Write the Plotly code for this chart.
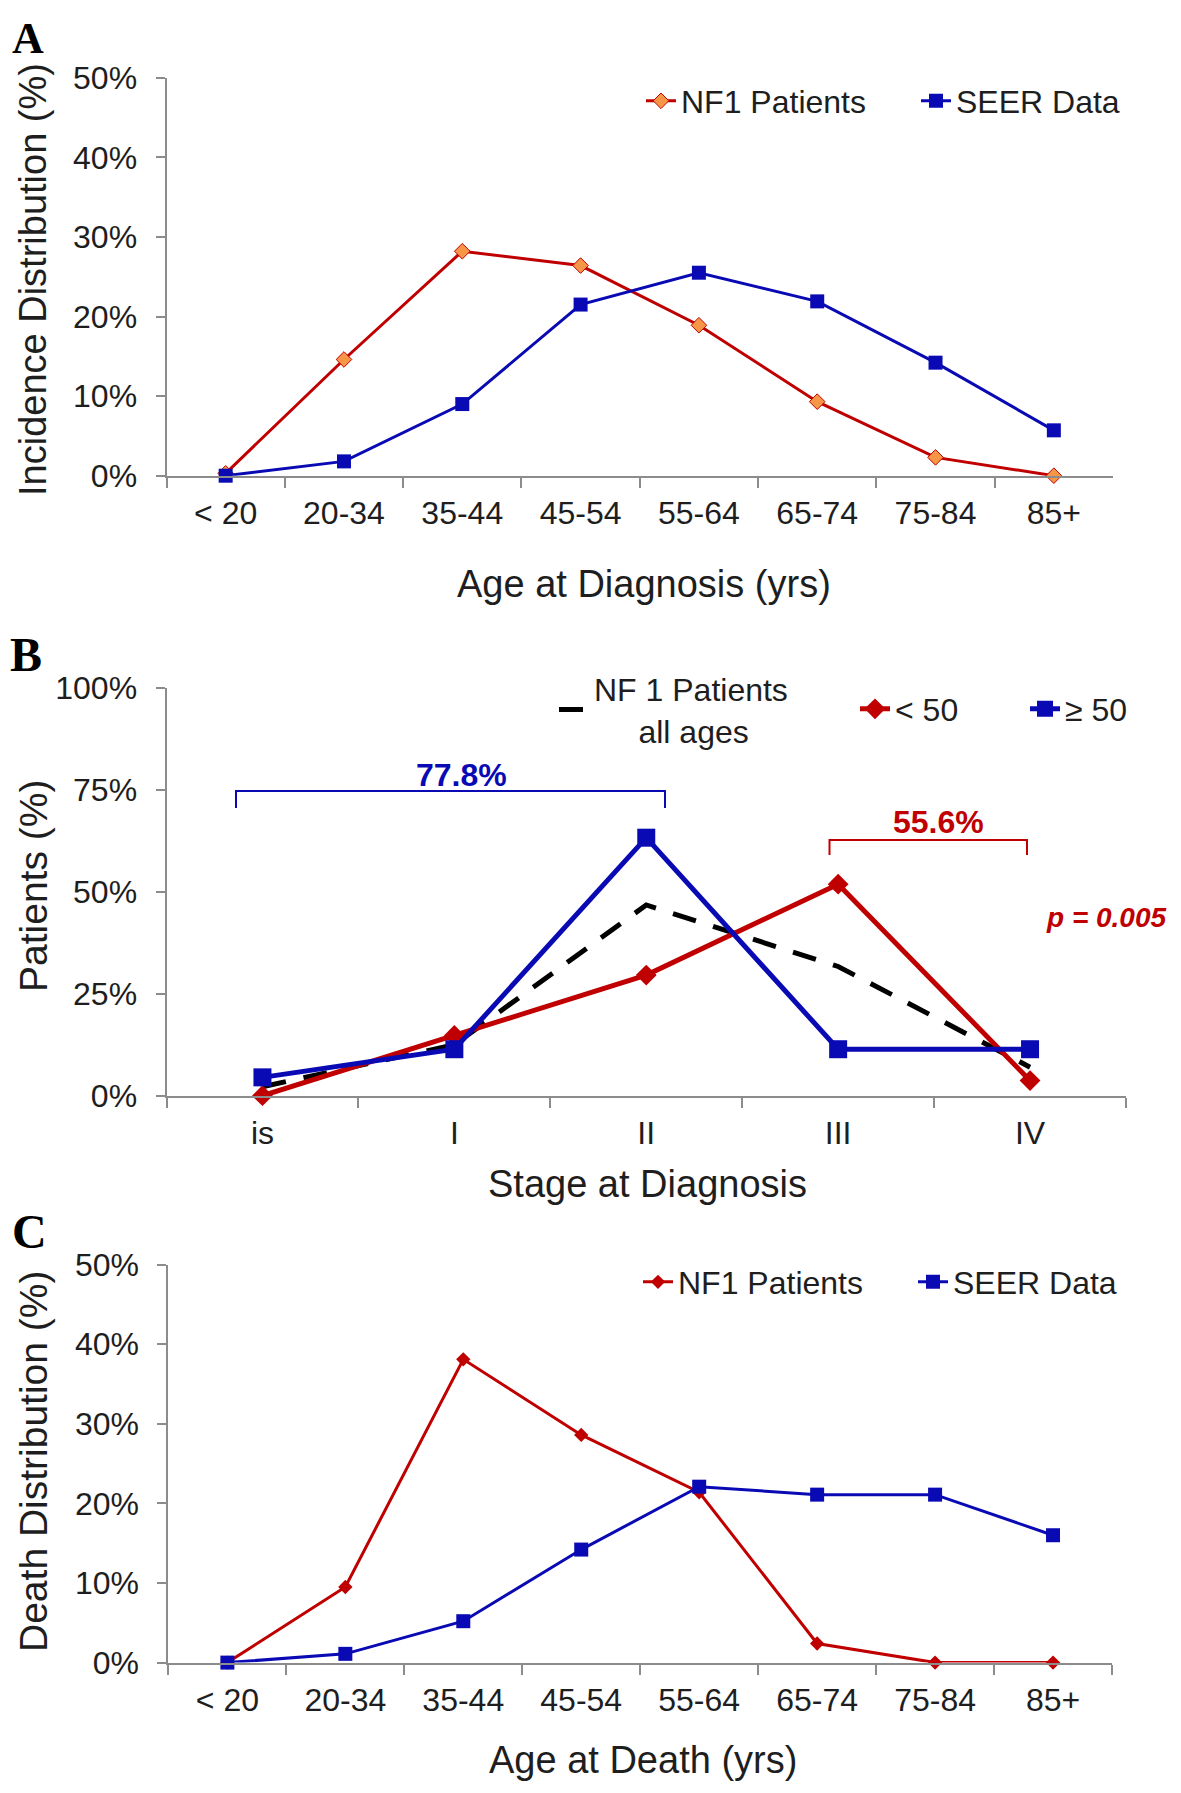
import plotly.graph_objects as go

# ---------------- data ----------------
age_cats = ["< 20", "20-34", "35-44", "45-54", "55-64", "65-74", "75-84", "85+"]
incid_nf1 = [0.3, 14.6, 28.2, 26.4, 18.9, 9.3, 2.3, 0.0]
incid_seer = [0.0, 1.8, 9.0, 21.5, 25.5, 21.9, 14.2, 5.7]

stage_cats = ["is", "I", "II", "III", "IV"]
stage_all = [2.2, 12.5, 46.8, 31.7, 7.0]
stage_lt50 = [0.0, 14.8, 29.6, 51.9, 3.7]
stage_ge50 = [4.5, 11.4, 63.3, 11.4, 11.4]

death_nf1 = [0.0, 9.5, 38.1, 28.6, 21.4, 2.4, 0.0, 0.0]
death_seer = [0.0, 1.1, 5.2, 14.2, 22.1, 21.1, 21.1, 16.0]

yticks_50 = [0, 10, 20, 30, 40, 50]
yticks_100 = [0, 25, 50, 75, 100]

# ---------------- layout helpers ----------------
PAGE_W, PAGE_H = 1181, 1793
OFF = 8  # default body margin of the html page
W, H = PAGE_W - 2 * OFF, PAGE_H - 2 * OFF
def fx(px):
    return (px - OFF) / W
def fy(py):
    return 1 - (py - OFF) / H

RED = "#C00000"
ORANGE = "#F79646"
BLUE = "#0A0AB4"
AXC = "#8C8C8C"
TXT = "#1E1E1E"
FONT = "Liberation Sans, Arial, sans-serif"

fig = go.Figure()

# Panel A
fig.add_trace(go.Scatter(x=age_cats, y=incid_nf1, mode="lines+markers", name="NF1 Patients",
                         line=dict(color=RED, width=3),
                         marker=dict(symbol="diamond", size=12, color=ORANGE, line=dict(color=RED, width=1)),
                         xaxis="x", yaxis="y", legend="legend", cliponaxis=False))
fig.add_trace(go.Scatter(x=age_cats, y=incid_seer, mode="lines+markers", name="SEER Data",
                         line=dict(color=BLUE, width=3),
                         marker=dict(symbol="square", size=14, color=BLUE),
                         xaxis="x", yaxis="y", legend="legend", cliponaxis=False))

# Panel B
fig.add_trace(go.Scatter(x=stage_cats, y=stage_all, mode="lines",
                         name="NF 1 Patients<br>\u00a0\u00a0\u00a0\u00a0\u00a0all ages",
                         line=dict(color="black", width=5, dash="24px,18px"),
                         xaxis="x2", yaxis="y2", legend="legend2", cliponaxis=False))
fig.add_trace(go.Scatter(x=stage_cats, y=stage_lt50, mode="lines+markers", name="< 50",
                         line=dict(color=RED, width=5),
                         marker=dict(symbol="diamond", size=16, color=RED),
                         xaxis="x2", yaxis="y2", legend="legend4", cliponaxis=False))
fig.add_trace(go.Scatter(x=stage_cats, y=stage_ge50, mode="lines+markers", name="\u2265 50",
                         line=dict(color=BLUE, width=5),
                         marker=dict(symbol="square", size=18, color=BLUE),
                         xaxis="x2", yaxis="y2", legend="legend4", cliponaxis=False))

# Panel C
fig.add_trace(go.Scatter(x=age_cats, y=death_nf1, mode="lines+markers", name="NF1 Patients",
                         line=dict(color=RED, width=3),
                         marker=dict(symbol="diamond", size=11, color=RED),
                         xaxis="x3", yaxis="y3", legend="legend3", cliponaxis=False))
fig.add_trace(go.Scatter(x=age_cats, y=death_seer, mode="lines+markers", name="SEER Data",
                         line=dict(color=BLUE, width=3),
                         marker=dict(symbol="square", size=14, color=BLUE),
                         xaxis="x3", yaxis="y3", legend="legend3", cliponaxis=False))

def xax(dom, n, anchor):
    return dict(domain=dom, range=[-0.5, n - 0.5], type="category", tickson="boundaries",
                ticks="outside", ticklen=10, tickwidth=2, tickcolor=AXC, anchor=anchor,
                showline=True, linecolor=AXC, linewidth=2, showgrid=False, zeroline=False,
                automargin=False,
                tickfont=dict(size=32, color=TXT, family=FONT), ticklabelstandoff=8)

def yax(dom, rng, vals, anchor):
    return dict(domain=dom, range=rng, tickvals=vals, ticktext=[f"{v}%" for v in vals],
                ticks="outside", ticklen=9, tickwidth=2, tickcolor=AXC,
                showline=True, linecolor=AXC, linewidth=2, showgrid=False, zeroline=False,
                automargin=False,
                tickfont=dict(size=32, color=TXT, family=FONT), ticklabelstandoff=12, anchor=anchor)

def leg(x, y, entrywidth=None):
    d = dict(x=fx(x), y=fy(y), xanchor="left", yanchor="middle", orientation="h",
             font=dict(size=32, color=TXT, family=FONT), bgcolor="rgba(0,0,0,0)")
    if entrywidth:
        d["entrywidth"] = entrywidth
    return d

fig.update_layout(
    width=W, height=H, margin=dict(l=0, r=0, t=0, b=0, autoexpand=False),
    paper_bgcolor="white", plot_bgcolor="white",
    font=dict(family=FONT, color=TXT),
    xaxis=xax([fx(166.5), fx(1113)], 8, "y"),
    yaxis=yax([fy(475.7), fy(77.7)], [0, 50], yticks_50, "x"),
    xaxis2=xax([fx(166.5), fx(1126)], 5, "y2"),
    yaxis2=yax([fy(1095.7), fy(688.1)], [0, 100], yticks_100, "x2"),
    xaxis3=xax([fx(168.4), fx(1112)], 8, "y3"),
    yaxis3=yax([fy(1662.6), fy(1264.6)], [0, 50], yticks_50, "x3"),
    legend=leg(641, 101, 230),
    legend2=leg(554, 710),
    legend4=leg(855, 709, 125),
    legend3=leg(638, 1282, 230),
    showlegend=True,
)

ann = []
def add_text(text, px, py, size, color=TXT, family=FONT, angle=0, xanchor="center"):
    ann.append(dict(text=text, x=fx(px), y=fy(py), xref="paper", yref="paper",
                    showarrow=False, xanchor=xanchor, yanchor="middle", textangle=angle,
                    font=dict(size=size, color=color, family=family)))

SERIF = "Liberation Serif, Times New Roman, serif"
add_text("<b>A</b>", 28, 38, 44, "black", SERIF)
add_text("<b>B</b>", 26, 655, 48, "black", SERIF)
add_text("<b>C</b>", 29, 1231, 48, "black", SERIF)

add_text("Incidence Distribution (%)", 33, 280, 38, angle=-90)
add_text("Patients (%)", 33, 886, 39, angle=-90)
add_text("Death Distribution (%)", 33, 1462, 39, angle=-90)

add_text("Age at Diagnosis (yrs)", 644, 584, 38)
add_text("Stage at Diagnosis", 647, 1184, 38)
add_text("Age at Death (yrs)", 643, 1760, 38)

add_text("<b>77.8%</b>", 461, 775, 32, BLUE)
add_text("<b>55.6%</b>", 938, 822, 32, RED)
add_text("<b><i>p = 0.005</i></b>", 1044, 917, 28, RED, xanchor="left")

fig.update_layout(annotations=ann)

def bracket(x1, x2, ytop, ybot, color):
    return dict(type="path", xref="paper", yref="paper",
                path=f"M {fx(x1)},{fy(ybot)} L {fx(x1)},{fy(ytop)} L {fx(x2)},{fy(ytop)} L {fx(x2)},{fy(ybot)}",
                line=dict(color=color, width=2))

fig.update_layout(shapes=[bracket(236, 665, 791, 808, BLUE), bracket(829.5, 1027, 840, 855, RED)])

fig.write_html("out.html")
